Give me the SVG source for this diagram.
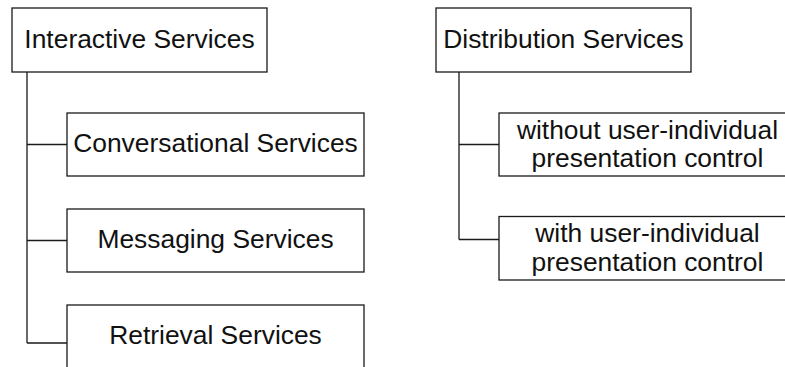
<svg xmlns="http://www.w3.org/2000/svg" width="785" height="367" viewBox="0 0 785 367">
<style>
.box{fill:#fff;stroke:#1a1a1a;stroke-width:1.3}
.lbl{font-family:"Liberation Sans",Arial,sans-serif;font-size:26.4px;fill:#111;text-anchor:middle}
.con{fill:none;stroke:#1a1a1a;stroke-width:1.3}
</style>
<rect width="785" height="367" fill="#fff"/>
<g id="connectors">
<path class="con" d="M27 72 V343 M27 144.5 H67 M27 240.5 H67 M27 343 H67"/>
<path class="con" d="M459 72 V239.5 M459 144.5 H499 M459 239.5 H499"/>
</g>
<g id="interactive"><rect class="box" x="12" y="8" width="255" height="64"/><text class="lbl" x="139.5" y="48">Interactive Services</text></g>
<g id="conversational"><rect class="box" x="67" y="113" width="297" height="63"/><text class="lbl" x="215.5" y="152">Conversational Services</text></g>
<g id="messaging"><rect class="box" x="67" y="209" width="297" height="63"/><text class="lbl" x="215.5" y="248">Messaging Services</text></g>
<g id="retrieval"><rect class="box" x="67" y="305" width="297" height="63"/><text class="lbl" x="215.5" y="344">Retrieval Services</text></g>
<g id="distribution"><rect class="box" x="436" y="8" width="255" height="64"/><text class="lbl" x="563.5" y="48">Distribution Services</text></g>
<g id="without"><rect class="box" x="499" y="113" width="297" height="63"/><text class="lbl" x="647.5" y="139">without user-individual</text><text class="lbl" x="647.5" y="167">presentation control</text></g>
<g id="with"><rect class="box" x="499" y="216.5" width="297" height="63.5"/><text class="lbl" x="647.5" y="242">with user-individual</text><text class="lbl" x="647.5" y="270.5">presentation control</text></g>
</svg>
